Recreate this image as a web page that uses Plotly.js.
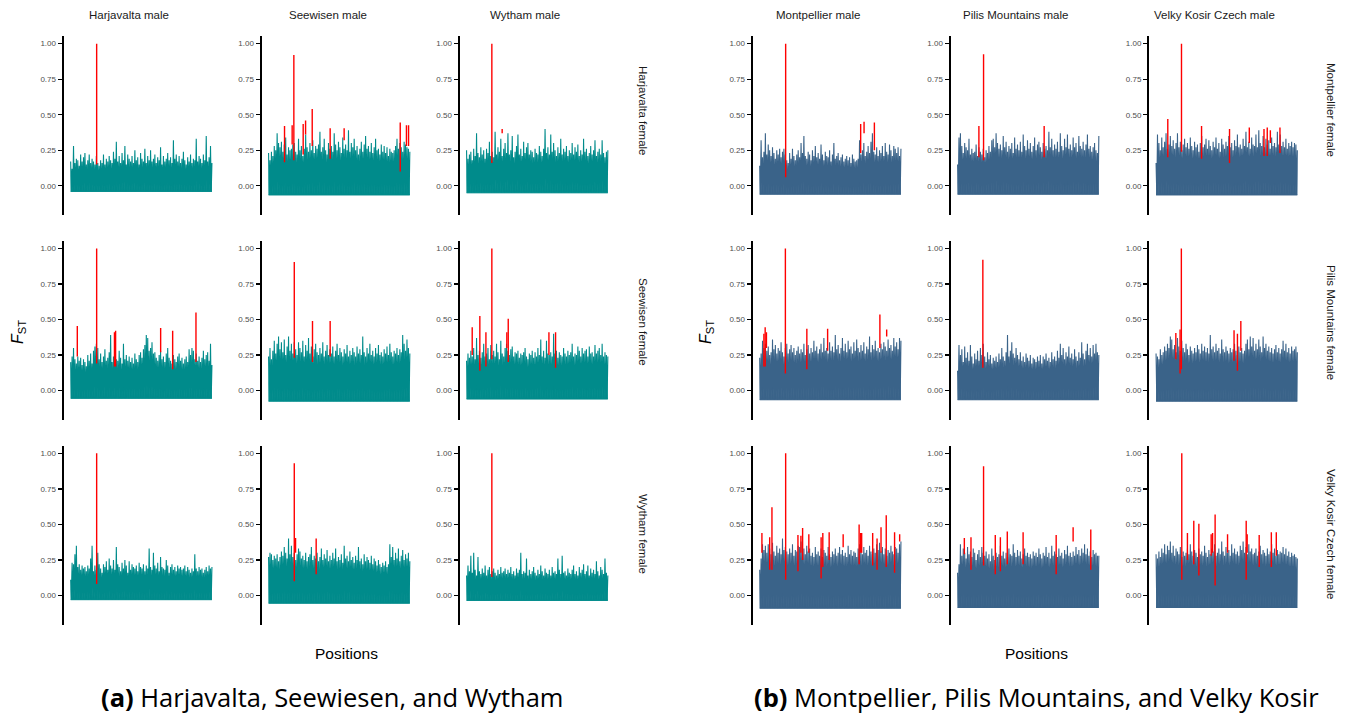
<!DOCTYPE html>
<html><head><meta charset="utf-8">
<script src="https://cdn.plot.ly/plotly-3.0.1.min.js"></script>
<style>html,body{margin:0;padding:0;background:#fff}#chart{width:1351px;height:714px}</style>
</head><body><div id="chart"></div>
<script>
// ---- labels ----
const maleLabels = ["Harjavalta male","Seewisen male","Wytham male","Montpellier male","Pilis Mountains male","Velky Kosir Czech male"];
const femaleLabels = ["Harjavalta female","Seewisen female","Wytham female","Montpellier female","Pilis Mountains female","Velky Kosir Czech female"];
const yTickVals = [0, 0.25, 0.5, 0.75, 1];
const yTickText = ["0.00","0.25","0.50","0.75","1.00"];
const captionA = "<b>(a)</b> Harjavalta, Seewiesen, and Wytham";
const captionB = "<b>(b)</b> Montpellier, Pilis Mountains, and Velky Kosir";

// ---- FST peak values along positions (per panel: male column x female row) ----
const fstHarM_HarF = [.17,.12,.28,.16,.19,.18,.14,.22,.17,.20,.23,.15,.18,.22,.16,.19,.17,.15,.21,.16,.14,.18,.16,.22,.15,.19,.17,.21,.18,.16,.24,.19,.31,.17,.21,.16,.23,.18,.28,.15,.22,.19,.17,.21,.16,.25,.18,.20,.15,.23,.19,.17,.26,.16,.21,.18,.25,.17,.19,.22,.16,.20,.18,.27,.15,.21,.17,.19,.23,.18,.20,.16,.32,.19,.22,.17,.21,.16,.19,.24,.18,.15,.20,.17,.22,.16,.19,.18,.33,.17,.21,.19,.16,.22,.18,.35,.17,.20,.28,.16];
const fstSeeM_HarF = [.23,.18,.24,.21,.28,.25,.37,.30,.27,.31,.24,.29,.34,.22,.27,.25,.26,.29,.30,.24,.22,.33,.25,.28,.21,.26,.36,.27,.24,.30,.25,.32,.23,.28,.26,.29,.38,.24,.27,.33,.25,.22,.30,.26,.28,.24,.37,.29,.25,.31,.27,.23,.34,.26,.29,.25,.39,.24,.30,.27,.33,.25,.28,.22,.26,.31,.24,.29,.35,.26,.28,.24,.30,.23,.27,.33,.25,.26,.22,.29,.24,.28,.23,.27,.21,.26,.24,.23,.25,.28,.33,.26,.30,.27,.24,.31,.29,.27,.26,.24];
const fstWytM_HarF = [.25,.19,.22,.24,.18,.26,.21,.37,.23,.20,.27,.22,.25,.19,.26,.23,.31,.21,.24,.20,.38,.22,.27,.24,.33,.21,.26,.30,.23,.37,.22,.25,.35,.20,.24,.28,.36,.22,.26,.21,.31,.23,.27,.30,.22,.25,.24,.20,.26,.23,.22,.28,.24,.21,.26,.40,.23,.27,.22,.36,.24,.30,.25,.21,.27,.23,.33,.22,.26,.24,.28,.21,.25,.23,.30,.22,.27,.24,.29,.21,.25,.22,.33,.24,.26,.21,.23,.28,.22,.25,.32,.21,.24,.26,.22,.32,.23,.20,.24,.25];
const fstHarM_SeeF = [.20,.24,.30,.22,.19,.24,.21,.23,.18,.22,.20,.17,.25,.21,.26,.19,.28,.31,.33,.30,.22,.26,.20,.24,.29,.21,.23,.27,.39,.20,.24,.29,.22,.21,.28,.23,.19,.33,.22,.25,.21,.24,.20,.23,.19,.26,.22,.20,.25,.27,.23,.29,.32,.39,.37,.28,.30,.34,.26,.27,.23,.21,.25,.28,.22,.24,.20,.26,.30,.23,.21,.19,.25,.22,.20,.24,.26,.21,.23,.19,.22,.24,.20,.29,.25,.30,.28,.22,.26,.21,.24,.20,.23,.28,.22,.25,.27,.21,.33,.18];
const fstSeeM_SeeF = [.24,.30,.22,.28,.35,.26,.33,.38,.29,.34,.27,.36,.25,.31,.38,.28,.33,.26,.34,.29,.25,.34,.30,.27,.35,.24,.32,.28,.37,.26,.31,.24,.29,.33,.27,.25,.30,.26,.34,.24,.28,.32,.25,.29,.26,.31,.24,.28,.33,.25,.30,.27,.24,.29,.26,.32,.24,.28,.25,.30,.27,.24,.31,.26,.29,.25,.38,.27,.24,.30,.26,.33,.25,.28,.24,.30,.26,.32,.25,.27,.24,.29,.26,.31,.25,.33,.27,.24,.28,.26,.30,.25,.29,.27,.39,.33,.28,.36,.30,.26];
const fstWytM_SeeF = [.21,.26,.23,.28,.24,.30,.22,.37,.25,.28,.23,.27,.33,.24,.26,.30,.22,.32,.25,.28,.24,.33,.27,.22,.35,.26,.24,.30,.33,.28,.25,.29,.31,.24,.27,.26,.28,.23,.26,.25,.27,.30,.24,.22,.26,.25,.28,.23,.27,.24,.30,.25,.36,.24,.28,.23,.35,.26,.25,.27,.24,.40,.26,.28,.23,.27,.25,.24,.30,.26,.24,.28,.25,.27,.33,.24,.26,.25,.31,.28,.24,.30,.26,.28,.29,.24,.31,.26,.27,.24,.32,.26,.28,.30,.25,.33,.24,.27,.25,.24];
const fstHarM_WytF = [.11,.23,.22,.29,.35,.20,.22,.18,.21,.19,.20,.17,.21,.19,.26,.35,.17,.21,.18,.30,.22,.19,.16,.22,.20,.24,.18,.26,.21,.19,.25,.18,.34,.22,.20,.17,.23,.19,.25,.21,.16,.24,.18,.22,.20,.19,.21,.17,.23,.20,.19,.22,.17,.21,.19,.33,.20,.18,.30,.21,.19,.23,.17,.27,.20,.19,.18,.25,.21,.16,.20,.22,.18,.20,.17,.21,.19,.20,.18,.19,.21,.17,.20,.18,.16,.19,.17,.29,.19,.17,.20,.18,.19,.16,.18,.20,.17,.21,.19,.20];
const fstSeeM_WytF = [.27,.30,.29,.25,.28,.26,.29,.24,.27,.31,.28,.34,.30,.26,.40,.29,.35,.27,.30,.25,.29,.33,.31,.26,.28,.25,.30,.24,.27,.29,.34,.25,.28,.26,.30,.24,.27,.33,.25,.29,.26,.32,.24,.28,.25,.30,.26,.33,.24,.27,.25,.29,.23,.35,.26,.28,.24,.31,.25,.27,.23,.28,.25,.34,.24,.26,.22,.29,.24,.27,.25,.23,.28,.22,.26,.24,.21,.25,.22,.20,.23,.21,.24,.20,.22,.36,.27,.34,.25,.30,.26,.33,.24,.28,.32,.25,.29,.26,.30,.24];
const fstWytM_WytF = [.14,.21,.17,.28,.16,.30,.18,.14,.27,.17,.15,.19,.16,.21,.14,.18,.20,.15,.17,.19,.16,.14,.18,.15,.20,.16,.17,.19,.15,.18,.16,.20,.15,.17,.14,.19,.16,.18,.30,.15,.17,.16,.26,.14,.18,.15,.17,.20,.16,.14,.18,.15,.21,.17,.14,.19,.16,.15,.18,.14,.20,.16,.17,.15,.26,.18,.15,.28,.16,.17,.14,.19,.16,.15,.18,.21,.15,.17,.14,.20,.16,.18,.22,.15,.17,.21,.14,.19,.16,.18,.15,.24,.17,.14,.20,.18,.15,.26,.16,.14];
const fstMonM_MonF = [.14,.32,.20,.24,.37,.22,.29,.25,.21,.27,.23,.19,.25,.22,.26,.20,.24,.26,.22,.18,.16,.23,.19,.26,.21,.18,.22,.25,.20,.30,.23,.35,.21,.19,.24,.22,.18,.25,.21,.28,.20,.23,.19,.29,.22,.18,.24,.21,.20,.25,.17,.22,.30,.19,.21,.23,.18,.20,.22,.17,.19,.21,.18,.20,.16,.22,.19,.17,.18,.19,.32,.22,.25,.30,.21,.24,.28,.23,.31,.37,.24,.22,.27,.21,.25,.23,.28,.21,.30,.24,.22,.29,.25,.21,.28,.26,.23,.27,.21,.26];
const fstPilM_MonF = [.15,.34,.37,.28,.23,.30,.27,.25,.33,.22,.26,.23,.24,.29,.21,.27,.24,.22,.26,.20,.25,.23,.28,.24,.32,.33,.27,.37,.30,.26,.29,.25,.35,.27,.31,.24,.28,.26,.30,.23,.34,.26,.29,.25,.31,.24,.36,.28,.25,.32,.26,.30,.24,.28,.34,.25,.29,.31,.27,.24,.30,.26,.28,.25,.38,.27,.33,.25,.29,.26,.31,.24,.37,.28,.25,.33,.27,.36,.26,.29,.25,.34,.27,.30,.24,.35,.28,.26,.31,.25,.29,.36,.26,.28,.24,.27,.30,.25,.23,.35];
const fstVelM_MonF = [.16,.36,.30,.25,.34,.27,.31,.37,.26,.29,.35,.28,.32,.26,.30,.37,.27,.31,.25,.29,.33,.27,.30,.26,.34,.28,.25,.31,.27,.29,.24,.30,.35,.27,.29,.33,.26,.32,.28,.25,.31,.27,.34,.26,.30,.24,.33,.29,.26,.31,.28,.35,.27,.30,.25,.32,.28,.36,.27,.29,.26,.33,.28,.38,.27,.31,.26,.34,.29,.28,.36,.27,.39,.30,.28,.35,.27,.33,.29,.32,.26,.34,.28,.30,.27,.38,.29,.36,.28,.31,.27,.33,.26,.30,.28,.31,.27,.30,.29,.25];
const fstMonM_PilF = [.23,.26,.35,.30,.33,.28,.31,.25,.27,.36,.29,.32,.26,.30,.28,.34,.27,.24,.30,.33,.26,.29,.32,.27,.30,.25,.28,.31,.26,.29,.27,.33,.25,.29,.32,.26,.30,.27,.35,.28,.31,.26,.29,.33,.27,.37,.28,.30,.26,.34,.28,.31,.27,.39,.29,.32,.26,.30,.37,.28,.33,.27,.35,.29,.31,.26,.34,.28,.36,.30,.27,.32,.28,.34,.26,.31,.29,.38,.27,.32,.29,.35,.28,.30,.27,.33,.29,.34,.31,.28,.36,.30,.32,.28,.37,.31,.34,.29,.37,.35];
const fstPilM_PilF = [.14,.32,.25,.29,.20,.31,.23,.27,.21,.32,.24,.19,.26,.22,.28,.21,.30,.25,.33,.24,.20,.27,.22,.25,.19,.23,.21,.24,.20,.26,.22,.30,.24,.21,.27,.39,.24,.28,.34,.26,.23,.30,.25,.22,.27,.21,.24,.20,.26,.23,.21,.25,.19,.23,.22,.20,.24,.21,.25,.19,.24,.22,.26,.21,.23,.20,.27,.22,.24,.21,.28,.23,.33,.25,.30,.22,.27,.24,.31,.23,.26,.22,.29,.24,.21,.27,.23,.34,.26,.22,.28,.33,.25,.30,.24,.32,.26,.33,.27,.25];
const fstVelM_PilF = [.26,.24,.22,.29,.25,.27,.31,.28,.33,.30,.38,.36,.29,.32,.27,.37,.31,.28,.35,.30,.27,.33,.29,.25,.31,.28,.26,.30,.27,.32,.29,.26,.33,.28,.31,.27,.30,.26,.39,.29,.31,.27,.33,.28,.30,.26,.36,.29,.27,.31,.28,.26,.30,.27,.29,.33,.28,.25,.31,.27,.30,.26,.28,.33,.36,.29,.38,.31,.37,.28,.33,.29,.36,.31,.27,.38,.30,.33,.28,.31,.27,.30,.26,.29,.32,.27,.30,.26,.29,.35,.28,.33,.27,.30,.26,.31,.28,.29,.31,.27];
const fstMonM_VelF = [.18,.26,.36,.32,.35,.30,.36,.33,.29,.37,.31,.28,.35,.30,.33,.29,.40,.32,.34,.31,.29,.33,.30,.36,.28,.32,.31,.35,.34,.38,.30,.33,.29,.35,.31,.33,.28,.30,.27,.34,.29,.31,.28,.33,.27,.32,.30,.28,.34,.29,.27,.31,.29,.33,.28,.30,.34,.29,.32,.28,.30,.27,.35,.29,.32,.28,.31,.30,.27,.33,.36,.31,.29,.34,.30,.32,.28,.35,.31,.29,.33,.30,.36,.32,.37,.31,.34,.29,.33,.28,.32,.30,.35,.31,.29,.34,.33,.30,.36,.38];
const fstPilM_VelF = [.16,.22,.36,.28,.33,.30,.26,.34,.29,.31,.27,.33,.30,.25,.29,.32,.27,.34,.30,.28,.31,.26,.29,.24,.33,.28,.25,.30,.27,.29,.35,.28,.31,.26,.30,.27,.33,.29,.28,.36,.30,.27,.32,.28,.31,.26,.29,.33,.28,.30,.27,.29,.26,.31,.28,.30,.27,.33,.29,.26,.30,.28,.34,.27,.30,.26,.35,.28,.31,.29,.27,.33,.28,.30,.26,.32,.29,.35,.28,.30,.27,.31,.28,.34,.29,.32,.28,.33,.30,.36,.29,.33,.28,.31,.27,.32,.29,.30,.28,.28];
const fstVelM_VelF = [.29,.26,.31,.27,.33,.30,.36,.29,.35,.32,.38,.30,.35,.28,.33,.31,.29,.34,.27,.31,.28,.30,.33,.29,.36,.31,.28,.32,.30,.27,.33,.29,.31,.28,.35,.30,.27,.32,.29,.33,.31,.36,.28,.30,.33,.29,.38,.31,.28,.34,.30,.32,.28,.36,.30,.33,.29,.31,.28,.35,.32,.38,.30,.34,.29,.36,.31,.33,.29,.30,.33,.28,.31,.35,.29,.32,.30,.28,.33,.29,.31,.36,.30,.33,.28,.32,.29,.31,.30,.34,.29,.33,.28,.31,.27,.30,.28,.29,.27,.26];

// lowest FST level reached between peaks, per panel
const fstFloor = {
  HarM_HarF:-0.04, SeeM_HarF:-0.065, WytM_HarF:-0.05,
  HarM_SeeF:-0.055, SeeM_SeeF:-0.075, WytM_SeeF:-0.06,
  HarM_WytF:-0.03, SeeM_WytF:-0.055, WytM_WytF:-0.035,
  MonM_MonF:-0.06, PilM_MonF:-0.06, VelM_MonF:-0.065,
  MonM_PilF:-0.065, PilM_PilF:-0.065, VelM_PilF:-0.075,
  MonM_VelF:-0.09, PilM_VelF:-0.085, VelM_VelF:-0.085
};

// ---- outlier SNPs (red): relative position, top FST, base FST ----
const outPos = {
  HarM_HarF:[.184], SeeM_HarF:[.113,.167,.179,.245,.262,.309,.436,.535,.932,.976,.991], WytM_HarF:[.179,.252],
  HarM_SeeF:[.047,.184,.310,.318,.637,.722,.887], SeeM_SeeF:[.182,.311,.436], WytM_SeeF:[.040,.094,.137,.179,.285,.295,.583,.630],
  HarM_WytF:[.184], SeeM_WytF:[.182,.191,.337], WytM_WytF:[.179],
  MonM_MonF:[.184,.715,.739,.812], PilM_MonF:[.151,.184,.613], VelM_MonF:[.083,.180,.322,.520,.660,.764,.787,.809,.877],
  MonM_PilF:[.030,.039,.048,.182,.334,.481,.851,.899], PilM_PilF:[.179], VelM_PilF:[.140,.170,.179,.552,.576,.600],
  MonM_VelF:[.016,.071,.087,.184,.271,.292,.304,.348,.435,.447,.492,.591,.704,.715,.722,.800,.831,.859,.896,.955,.991],
  PilM_VelF:[.048,.095,.184,.267,.303,.352,.464,.698,.818,.943],
  VelM_VelF:[.182,.222,.267,.303,.390,.400,.418,.506,.638,.645,.730,.816,.851]
};
const outTop = {
  HarM_HarF:[1.0], SeeM_HarF:[.42,.425,.92,.435,.46,.54,.405,.405,.445,.425,.425], WytM_HarF:[1.0,.40],
  HarM_SeeF:[.455,1.0,.41,.42,.44,.42,.55], SeeM_SeeF:[.905,.49,.49], WytM_SeeF:[.445,.525,.41,1.0,.41,.505,.41,.41],
  HarM_WytF:[1.0], SeeM_WytF:[.93,.405,.40], WytM_WytF:[1.0],
  MonM_MonF:[1.0,.435,.45,.445], PilM_MonF:[.42,.925,.42], VelM_MonF:[.47,1.0,.42,.40,.41,.40,.41,.39,.41],
  MonM_PilF:[.40,.445,.41,1.0,.435,.435,.535,.43], PilM_PilF:[.92], VelM_PilF:[.405,.43,1.0,.425,.40,.49],
  MonM_VelF:[.44,.41,.62,1.0,.425,.42,.475,.43,.41,.44,.445,.43,.50,.44,.44,.44,.40,.48,.565,.445,.43],
  PilM_VelF:[.405,.41,.91,.425,.41,.45,.445,.425,.48,.465],
  VelM_VelF:[1.0,.44,.525,.505,.43,.44,.57,.43,.525,.43,.425,.445,.445]
};
const outBase = {
  HarM_HarF:[.15], SeeM_HarF:[.165,.29,.18,.22,.36,.28,.19,.32,.10,.28,.28], WytM_HarF:[.16,.37],
  HarM_SeeF:[.24,.19,.17,.17,.27,.15,.20], SeeM_SeeF:[.23,.20,.24], WytM_SeeF:[.25,.14,.17,.22,.30,.20,.25,.16],
  HarM_WytF:[.08], SeeM_WytF:[.10,.30,.15], WytM_WytF:[.13],
  MonM_MonF:[.06,.23,.37,.25], PilM_MonF:[.20,.18,.20], VelM_MonF:[.20,.24,.19,.16,.30,.21,.21,.30,.23],
  MonM_PilF:[.17,.17,.30,.12,.15,.28,.30,.38], PilM_PilF:[.16], VelM_PilF:[.22,.12,.15,.21,.14,.28],
  MonM_VelF:[.30,.18,.18,.11,.17,.30,.25,.30,.12,.20,.25,.34,.22,.30,.30,.21,.18,.30,.20,.16,.38],
  PilM_VelF:[.29,.18,.21,.15,.17,.22,.22,.15,.38,.18],
  VelM_VelF:[.11,.25,.22,.14,.28,.30,.07,.30,.11,.30,.20,.20,.28]
};

// ---- panel grid ----
const panels = [
  ["HarM_HarF", fstHarM_HarF, 0,0,0], ["SeeM_HarF", fstSeeM_HarF, 0,1,0], ["WytM_HarF", fstWytM_HarF, 0,2,0],
  ["HarM_SeeF", fstHarM_SeeF, 0,0,1], ["SeeM_SeeF", fstSeeM_SeeF, 0,1,1], ["WytM_SeeF", fstWytM_SeeF, 0,2,1],
  ["HarM_WytF", fstHarM_WytF, 0,0,2], ["SeeM_WytF", fstSeeM_WytF, 0,1,2], ["WytM_WytF", fstWytM_WytF, 0,2,2],
  ["MonM_MonF", fstMonM_MonF, 1,0,0], ["PilM_MonF", fstPilM_MonF, 1,1,0], ["VelM_MonF", fstVelM_MonF, 1,2,0],
  ["MonM_PilF", fstMonM_PilF, 1,0,1], ["PilM_PilF", fstPilM_PilF, 1,1,1], ["VelM_PilF", fstVelM_PilF, 1,2,1],
  ["MonM_VelF", fstMonM_VelF, 1,0,2], ["PilM_VelF", fstPilM_VelF, 1,1,2], ["VelM_VelF", fstVelM_VelF, 1,2,2]
];
const groupColor = ["#008b8b", "#3a6389"];

const W = 1351, H = 714;
const colLeft = [[63.6, 261.5, 459.5], [752.6, 950.5, 1149.0]];
const panelW = 155.4;
const rowTop = [36, 240.8, 445.7];
const panelH = 179;

const traces = [];
const layout = {
  width: W, height: H,
  margin: {l:0, r:0, t:0, b:0},
  paper_bgcolor: "#fff", plot_bgcolor: "rgba(0,0,0,0)",
  showlegend: false,
  font: {family: "Liberation Sans, Arial, sans-serif", color: "#1a1a1a"},
  annotations: []
};

panels.forEach((p, k) => {
  const [key, vals, g, c, r] = p;
  const idx = k + 1;
  const xa = idx === 1 ? "x" : "x" + idx;
  const ya = idx === 1 ? "y" : "y" + idx;
  const n = vals.length;
  const floor = fstFloor[key];
  const xs = [], ys = [];
  for (let i = 0; i < n; i++) {
    xs.push(i / (n - 1)); ys.push(vals[i]);
    if (i < n - 1) { xs.push((i + 0.5) / (n - 1)); ys.push(floor); }
  }
  // baseline at the floor level, so the area under the trace can be filled
  traces.push({x: [0, 1], y: [floor, floor], xaxis: xa, yaxis: ya, type: "scatter", mode: "lines",
    line: {color: groupColor[g], width: 1}, hoverinfo: "skip"});
  traces.push({x: xs, y: ys, xaxis: xa, yaxis: ya, type: "scatter", mode: "lines",
    fill: "tonexty", fillcolor: groupColor[g],
    line: {color: groupColor[g], width: 1.1}, hoverinfo: "skip"});
  const ox = [], oy = [];
  outPos[key].forEach((pos, j) => {
    ox.push(pos, pos, null); oy.push(outBase[key][j], outTop[key][j], null);
  });
  traces.push({x: ox, y: oy, xaxis: xa, yaxis: ya, type: "scatter", mode: "lines",
    line: {color: "#ff0000", width: 1.4}, hoverinfo: "skip"});

  const L = colLeft[g][c], T = rowTop[r];
  layout["xaxis" + (idx === 1 ? "" : idx)] = {
    domain: [L / W, (L + panelW) / W], range: [-0.05, 1.05], visible: false, fixedrange: true
  };
  layout["yaxis" + (idx === 1 ? "" : idx)] = {
    domain: [1 - (T + panelH) / H, 1 - T / H], range: [-0.206, 1.054], anchor: xa,
    tickvals: yTickVals, ticktext: yTickText, showline: true, linewidth: 2, linecolor: "#000",
    ticks: "outside", ticklen: 4, tickwidth: 1.3, tickcolor: "#000", showgrid: false, zeroline: false,
    tickfont: {size: 8, color: "#4d4d4d", family: "Liberation Sans, Arial, sans-serif"}, fixedrange: true
  };
});

// column (male) titles
const colTitleX = [[129, 327.5, 525], [818, 1015.5, 1214]];
for (let g = 0; g < 2; g++) for (let c = 0; c < 3; c++) {
  layout.annotations.push({text: maleLabels[g*3+c], xref: "paper", yref: "paper",
    x: colTitleX[g][c] / W, y: 1 - 14.7 / H, xanchor: "center", yanchor: "middle", showarrow: false,
    font: {size: 11.5, color: "#1a1a1a"}});
}
// row (female) titles
const rowTitleX = [643, 1331];
const rowTitleY = [110, 322, 534];
for (let g = 0; g < 2; g++) for (let r = 0; r < 3; r++) {
  layout.annotations.push({text: femaleLabels[g*3+r], xref: "paper", yref: "paper",
    x: rowTitleX[g] / W, y: 1 - rowTitleY[r] / H, xanchor: "center", yanchor: "middle", showarrow: false,
    textangle: 90, font: {size: 11.5, color: "#1a1a1a"}});
}
// axis titles
[18, 706].forEach(x => layout.annotations.push({text: "<i>F</i><sub>ST</sub>", xref: "paper", yref: "paper",
  x: x / W, y: 1 - 332 / H, xanchor: "center", yanchor: "middle", showarrow: false, textangle: -90,
  font: {size: 16, color: "#000"}}));
[346.5, 1036.5].forEach(x => layout.annotations.push({text: "Positions", xref: "paper", yref: "paper",
  x: x / W, y: 1 - 653 / H, xanchor: "center", yanchor: "middle", showarrow: false,
  font: {size: 15.5, color: "#000"}}));
// captions
[[captionA, 332], [captionB, 1036]].forEach(([t, x]) => layout.annotations.push({text: t, xref: "paper", yref: "paper",
  x: x / W, y: 1 - 697 / H, xanchor: "center", yanchor: "middle", showarrow: false,
  font: {size: 25.5, color: "#000", family: "Open Sans, sans-serif"}}));

Plotly.newPlot("chart", traces, layout, {staticPlot: true, displayModeBar: false});
</script>
</body></html>
